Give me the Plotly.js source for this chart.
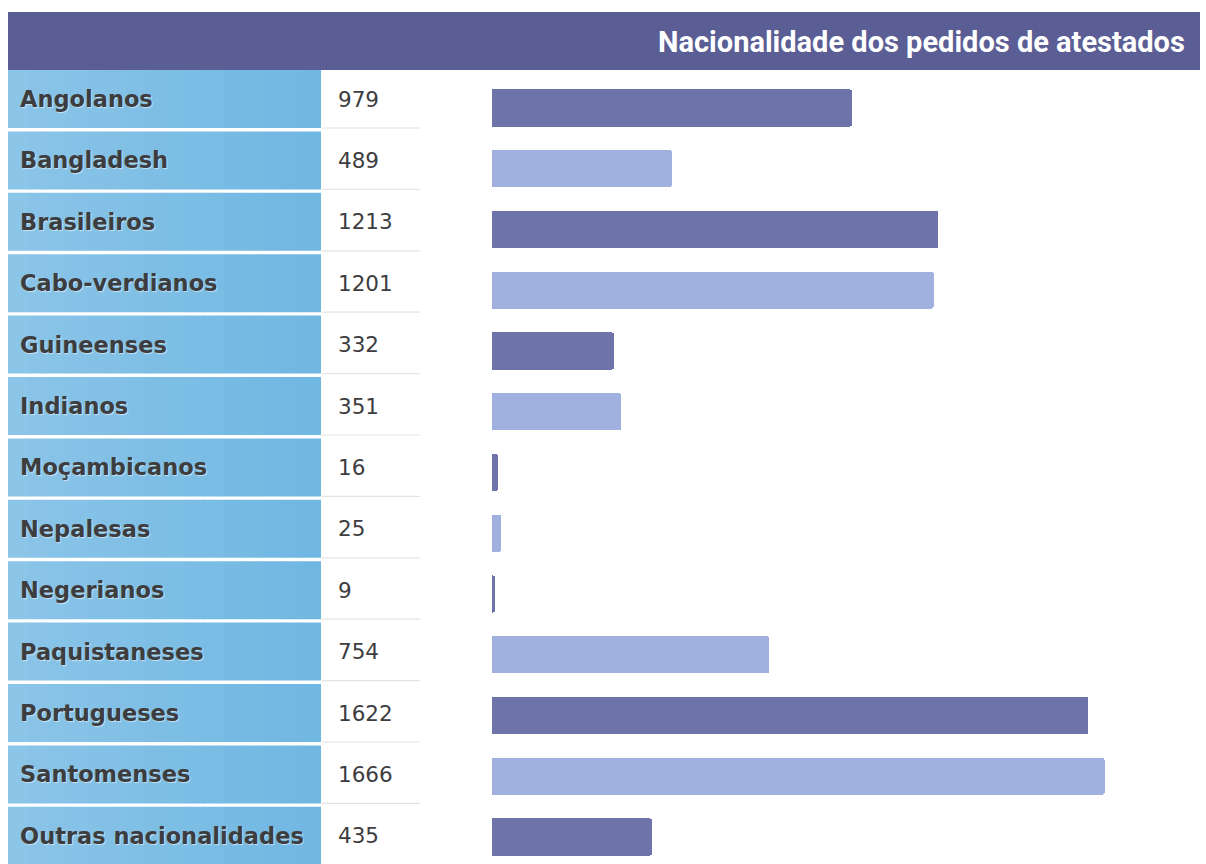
<!DOCTYPE html>
<html>
<head>
<meta charset="utf-8">
<script src="https://cdn.plot.ly/plotly-3.0.1.min.js"></script>
<style>html,body{margin:0;padding:0;background:#fff;}#chart{width:1206px;height:864px;}</style>
</head>
<body>
<div id="chart"></div>
<script>
// ---- data ----
const title = 'Nacionalidade dos pedidos de atestados';
const categories = ['Angolanos','Bangladesh','Brasileiros','Cabo-verdianos','Guineenses','Indianos','Moçambicanos','Nepalesas','Negerianos','Paquistaneses','Portugueses','Santomenses','Outras nacionalidades'];
const values = [979, 489, 1213, 1201, 332, 351, 16, 25, 9, 754, 1622, 1666, 435];

// ---- styling ----
const W = 1206, H = 864;
const px = v => v / W;            // horizontal pixel -> paper
const py = v => 1 - v / H;        // vertical pixel -> paper
const darkBar = '#6e73aa', lightBar = '#a0b0df';
const headerColor = '#5a5e95';
const textColor = '#3d3d3f';

function lerpColor(a, b, t) {
  const pa = [1,3,5].map(i => parseInt(a.substr(i,2),16));
  const pb = [1,3,5].map(i => parseInt(b.substr(i,2),16));
  return 'rgb(' + pa.map((v,i) => Math.round(v + (pb[i]-v)*t)).join(',') + ')';
}

const shapes = [];
// header band
shapes.push({type:'rect', xref:'paper', yref:'paper', x0:px(8), x1:px(1200), y0:py(70), y1:py(12),
  fillcolor:headerColor, line:{width:0}, layer:'below'});

const half = 0.472;
categories.forEach((c, i) => {
  // label cell with a subtle horizontal gradient (strips)
  const nStrips = 16, xs = 8, xe = 321;
  for (let k = 0; k < nStrips; k++) {
    const x0 = xs + (xe - xs) * k / nStrips, x1 = xs + (xe - xs) * (k + 1) / nStrips + 0.6;
    const t = k / (nStrips - 1);
    const col = lerpColor('#8bc5e8', '#70b7e2', t);
    shapes.push({type:'rect', xref:'paper', yref:'y', x0:px(x0), x1:px(Math.min(x1, xe)), y0:i - half, y1:i + half,
      fillcolor:col, line:{width:0}, layer:'below'});
  }
  // faint separator under value cell
  shapes.push({type:'line', xref:'paper', yref:'y', x0:px(322), x1:px(420), y0:i + half, y1:i + half,
    line:{color:'#e4e4e4', width:1.2}, layer:'below'});
});

const annotations = [];
annotations.push({xref:'paper', yref:'paper', x:px(1187), y:py(42), xanchor:'right', yanchor:'middle',
  text:title, showarrow:false, font:{family:'Roboto', size:29, color:'#ffffff', weight:700}});
categories.forEach((c, i) => {
  annotations.push({xref:'paper', yref:'y', x:px(18), y:i, xanchor:'left', yanchor:'middle', text:c, showarrow:false,
    font:{family:'DejaVu Sans', size:22.5, color:textColor, weight:700, shadow:'1px 1px 1px rgba(255,255,255,0.55)'}});
  annotations.push({xref:'paper', yref:'y', x:px(336), y:i, xanchor:'left', yanchor:'middle', text:String(values[i]), showarrow:false,
    font:{family:'DejaVu Sans', size:21.5, color:textColor}});
});

const barTrace = {
  type:'bar', orientation:'h', x:values, y:categories, xaxis:'x', yaxis:'y2',
  width:0.61,
  marker:{color:values.map((v, i) => i % 2 === 0 ? darkBar : lightBar), line:{width:0}, cornerradius:2},
  hoverinfo:'x+y'
};
const anchorTrace = {
  type:'scatter', mode:'markers', x:categories.map(() => 0), y:categories, xaxis:'x2', yaxis:'y',
  marker:{opacity:0}, hoverinfo:'skip', showlegend:false
};

const rowPitchCells = 61.4, firstCell = 99;
const rowPitchBars = 60.75, firstBar = 108;
const pxPerUnit = 0.3677;

const layout = {
  width:W, height:H, margin:{l:0, r:0, t:0, b:0, pad:0},
  paper_bgcolor:'#ffffff', plot_bgcolor:'rgba(0,0,0,0)',
  showlegend:false, bargap:0,
  xaxis:{domain:[px(492), 1], range:[0, (W - 492) / pxPerUnit], visible:false, fixedrange:true},
  xaxis2:{domain:[0,1], range:[0,1], visible:false, overlaying:'x'},
  yaxis:{type:'category', categoryorder:'array', categoryarray:categories, domain:[0,1],
    range:[(H - firstCell) / rowPitchCells, -firstCell / rowPitchCells], visible:false, fixedrange:true},
  yaxis2:{type:'category', categoryorder:'array', categoryarray:categories, domain:[0,1], overlaying:'y',
    range:[(H - firstBar) / rowPitchBars, -firstBar / rowPitchBars], visible:false, fixedrange:true},
  shapes:shapes, annotations:annotations
};

Plotly.newPlot('chart', [anchorTrace, barTrace], layout, {displayModeBar:false, staticPlot:true});
</script>
</body>
</html>
